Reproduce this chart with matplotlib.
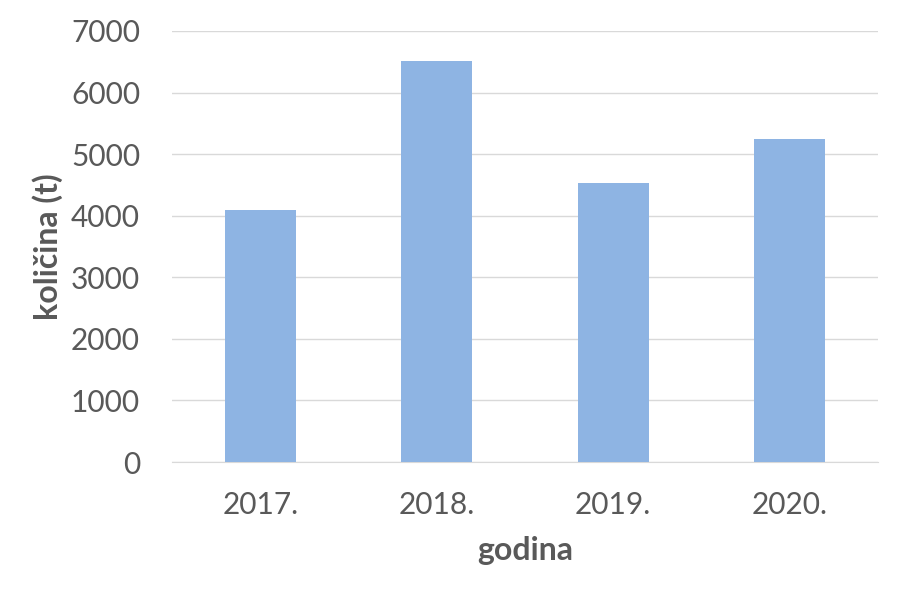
import matplotlib
matplotlib.use("Agg")
import matplotlib.pyplot as plt

# data
godine = ["2017.", "2018.", "2019.", "2020."]
kolicina = [4100, 6520, 4530, 5245]
yticks = [0, 1000, 2000, 3000, 4000, 5000, 6000, 7000]

plt.rcParams['font.family'] = ['Lato', 'DejaVu Sans']
txt = '#595959'

fig = plt.figure(figsize=(9.01, 5.98), dpi=100)
ax = fig.add_axes([172/901, 1 - 462/598, 706/901, 431/598])

ax.bar(range(len(godine)), kolicina, width=0.4, color='#8eb4e3', zorder=3)
ax.set_xlim(-0.5, len(godine) - 0.5)
ax.set_ylim(0, 7000)
ax.set_yticks(yticks)
ax.set_xticks(range(len(godine)))
ax.set_xticklabels(godine)
ax.grid(axis='y', color='#d9d9d9', linewidth=1, zorder=0)
for s in ['top', 'right', 'left']:
    ax.spines[s].set_visible(False)
ax.spines['bottom'].set_color('#d9d9d9')
ax.tick_params(length=0, labelsize=21.5, labelcolor=txt)
ax.tick_params(axis='y', pad=23)
ax.tick_params(axis='x', pad=21)

ax.set_xlabel('godina', fontsize=23, fontweight='bold', color=txt, labelpad=12)
ax.set_ylabel('količina (t)', fontsize=23, fontweight='bold', color=txt, labelpad=6)

fig.savefig('out.png', dpi=100)
